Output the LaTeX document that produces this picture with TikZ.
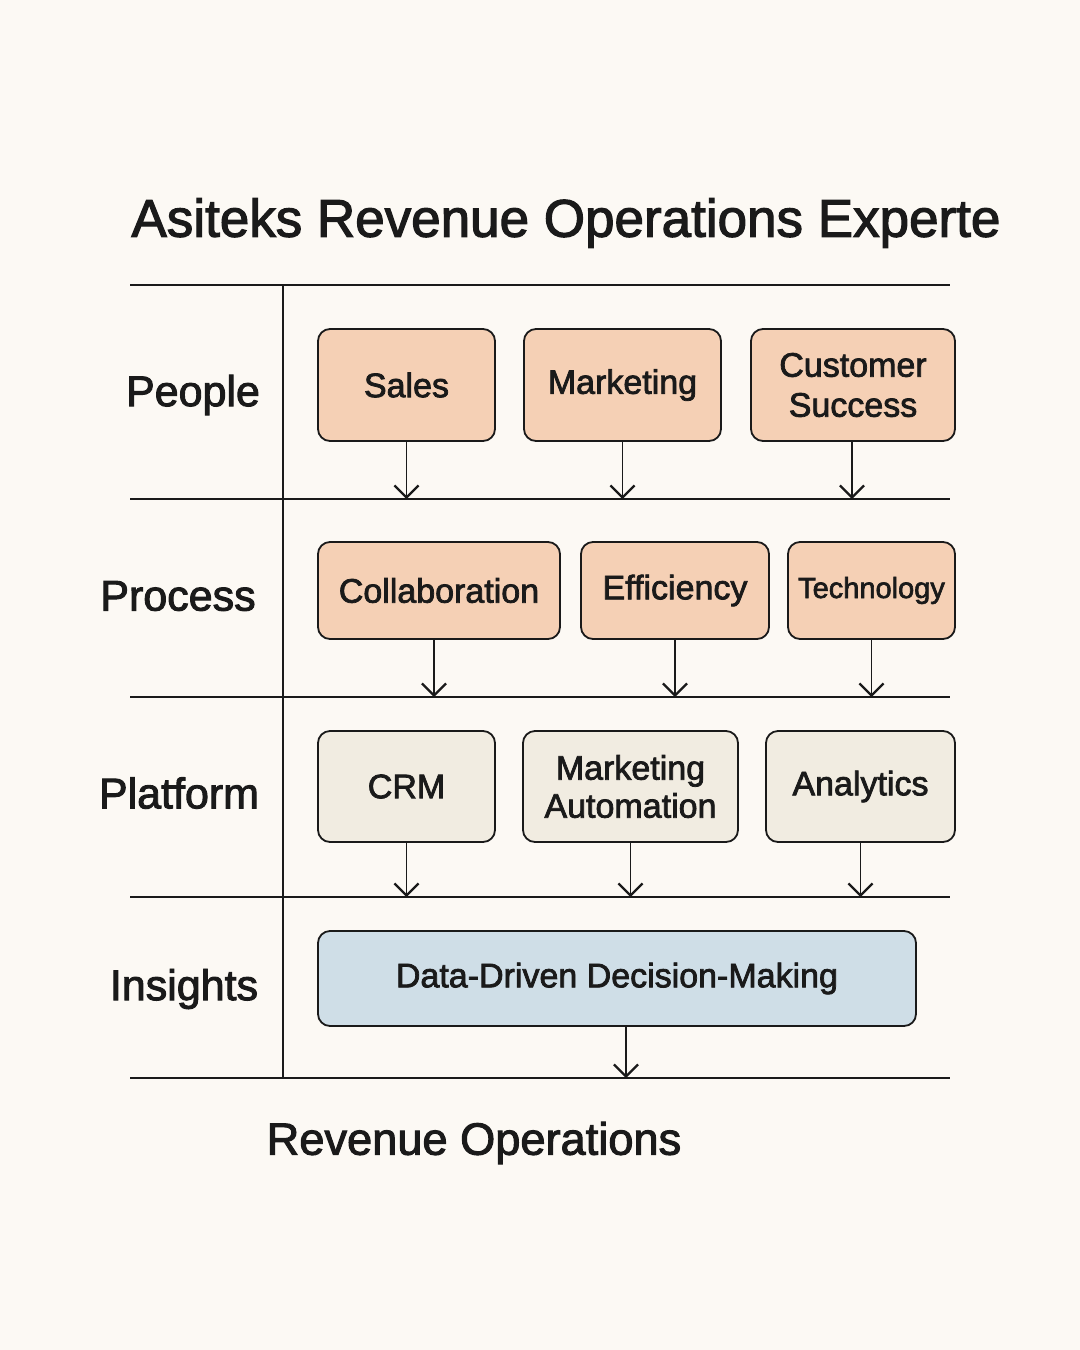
\documentclass[tikz,border=0pt]{standalone}
\usepackage{fontspec}
\setmainfont{Liberation Sans}[FakeBold=2.2]
\usetikzlibrary{arrows.meta}
\definecolor{bg}{HTML}{FCF9F4}
\definecolor{peach}{HTML}{F5D0B5}
\definecolor{cream}{HTML}{F1ECE1}
\definecolor{paleblue}{HTML}{CFDEE7}
\definecolor{ink}{HTML}{1A1A1A}
\begin{document}
\begin{tikzpicture}[x=0.5pt,y=-0.5pt,
  boxbase/.style={draw=ink,line width=0.9pt,rounded corners=6pt,align=center,inner sep=0pt,font=\fontsize{17}{20}\selectfont,text=ink},
  peachbox/.style={boxbase,fill=peach},
  creambox/.style={boxbase,fill=cream},
  bluebox/.style={boxbase,fill=paleblue},
  rule/.style={draw=ink,line width=0.9pt},
  flow/.style={draw=ink,line width=0.9pt,-{Straight Barb[length=6pt,width=12pt,line width=1.1pt]}},
  rowlabel/.style={font=\fontsize{21.5}{26}\selectfont,text=ink,anchor=center}
]
\useasboundingbox[fill=bg] (0,0) rectangle (1080,1350);

% title
\node[font=\fontsize{26.5}{32}\selectfont,text=ink] (title) at (566,223) {Asiteks Revenue Operations Experte};

% grid lines
\coordinate (l1a) at (130,285); \coordinate (l1b) at (950,285);
\coordinate (l2a) at (130,499); \coordinate (l2b) at (950,499);
\coordinate (l3a) at (130,697); \coordinate (l3b) at (950,697);
\coordinate (l4a) at (130,897); \coordinate (l4b) at (950,897);
\coordinate (l5a) at (130,1078); \coordinate (l5b) at (950,1078);
\coordinate (vt) at (283,285); \coordinate (vb) at (283,1078);
\draw[rule] (l1a) -- (l1b);
\draw[rule] (l2a) -- (l2b);
\draw[rule] (l3a) -- (l3b);
\draw[rule] (l4a) -- (l4b);
\draw[rule] (l5a) -- (l5b);
\draw[rule] (vt) -- (vb);

% row labels
\node[rowlabel] (lpeople) at (193,395) {People};
\node[rowlabel] (lprocess) at (178,596) {Process};
\node[rowlabel] (lplatform) at (179,793) {Platform};
\node[rowlabel] (linsights) at (184,989) {Insights};

% row 1: people
\node[peachbox,minimum width=88.5pt,minimum height=56pt] (sales) at (406.5,385) {Sales};
\node[peachbox,minimum width=98.5pt,minimum height=56pt] (marketing) at (622.5,385) {Marketing};
\node[peachbox,minimum width=102pt,minimum height=56pt] (cs) at (853,385) {Customer\\Success};

% row 2: process
\node[peachbox,minimum width=121pt,minimum height=48.5pt] (collab) at (439,590.5) {Collaboration};
\node[peachbox,minimum width=94pt,minimum height=48.5pt] (eff) at (675,590.5) {Efficiency};
\node[peachbox,minimum width=83.5pt,minimum height=48.5pt,font=\fontsize{14.5}{17}\selectfont] (tech) at (871.5,590.5) {Technology};

% row 3: platform
\node[creambox,minimum width=88.5pt,minimum height=55.5pt] (crm) at (406.5,786.5) {CRM};
\node[creambox,minimum width=107.5pt,minimum height=55.5pt,font=\fontsize{17}{19}\selectfont] (ma) at (630.5,786.5) {Marketing\\Automation};
\node[creambox,minimum width=94.5pt,minimum height=55.5pt] (analytics) at (860.5,786.5) {Analytics};

% row 4: insights
\node[bluebox,minimum width=299pt,minimum height=47.5pt] (ddm) at (617,978.5) {Data-Driven Decision-Making};

% connectors
\draw[flow] (sales.south) -- (sales.south |- l2a);
\draw[flow] (marketing.south) -- (marketing.south |- l2a);
\draw[flow] ([xshift=-0.5pt]cs.south) -- ([xshift=-0.5pt]cs.south |- l2a);
\draw[flow] ([xshift=-2.5pt]collab.south) -- ([xshift=-2.5pt]collab.south |- l3a);
\draw[flow] (eff.south) -- (eff.south |- l3a);
\draw[flow] (tech.south) -- (tech.south |- l3a);
\draw[flow] (crm.south) -- (crm.south |- l4a);
\draw[flow] (ma.south) -- (ma.south |- l4a);
\draw[flow] (analytics.south) -- (analytics.south |- l4a);
\draw[flow] ([xshift=4.5pt]ddm.south) -- ([xshift=4.5pt]ddm.south |- l5a);

% footer
\node[font=\fontsize{22.6}{27}\selectfont,text=ink] (footer) at (474,1143) {Revenue Operations};
\end{tikzpicture}
\end{document}
